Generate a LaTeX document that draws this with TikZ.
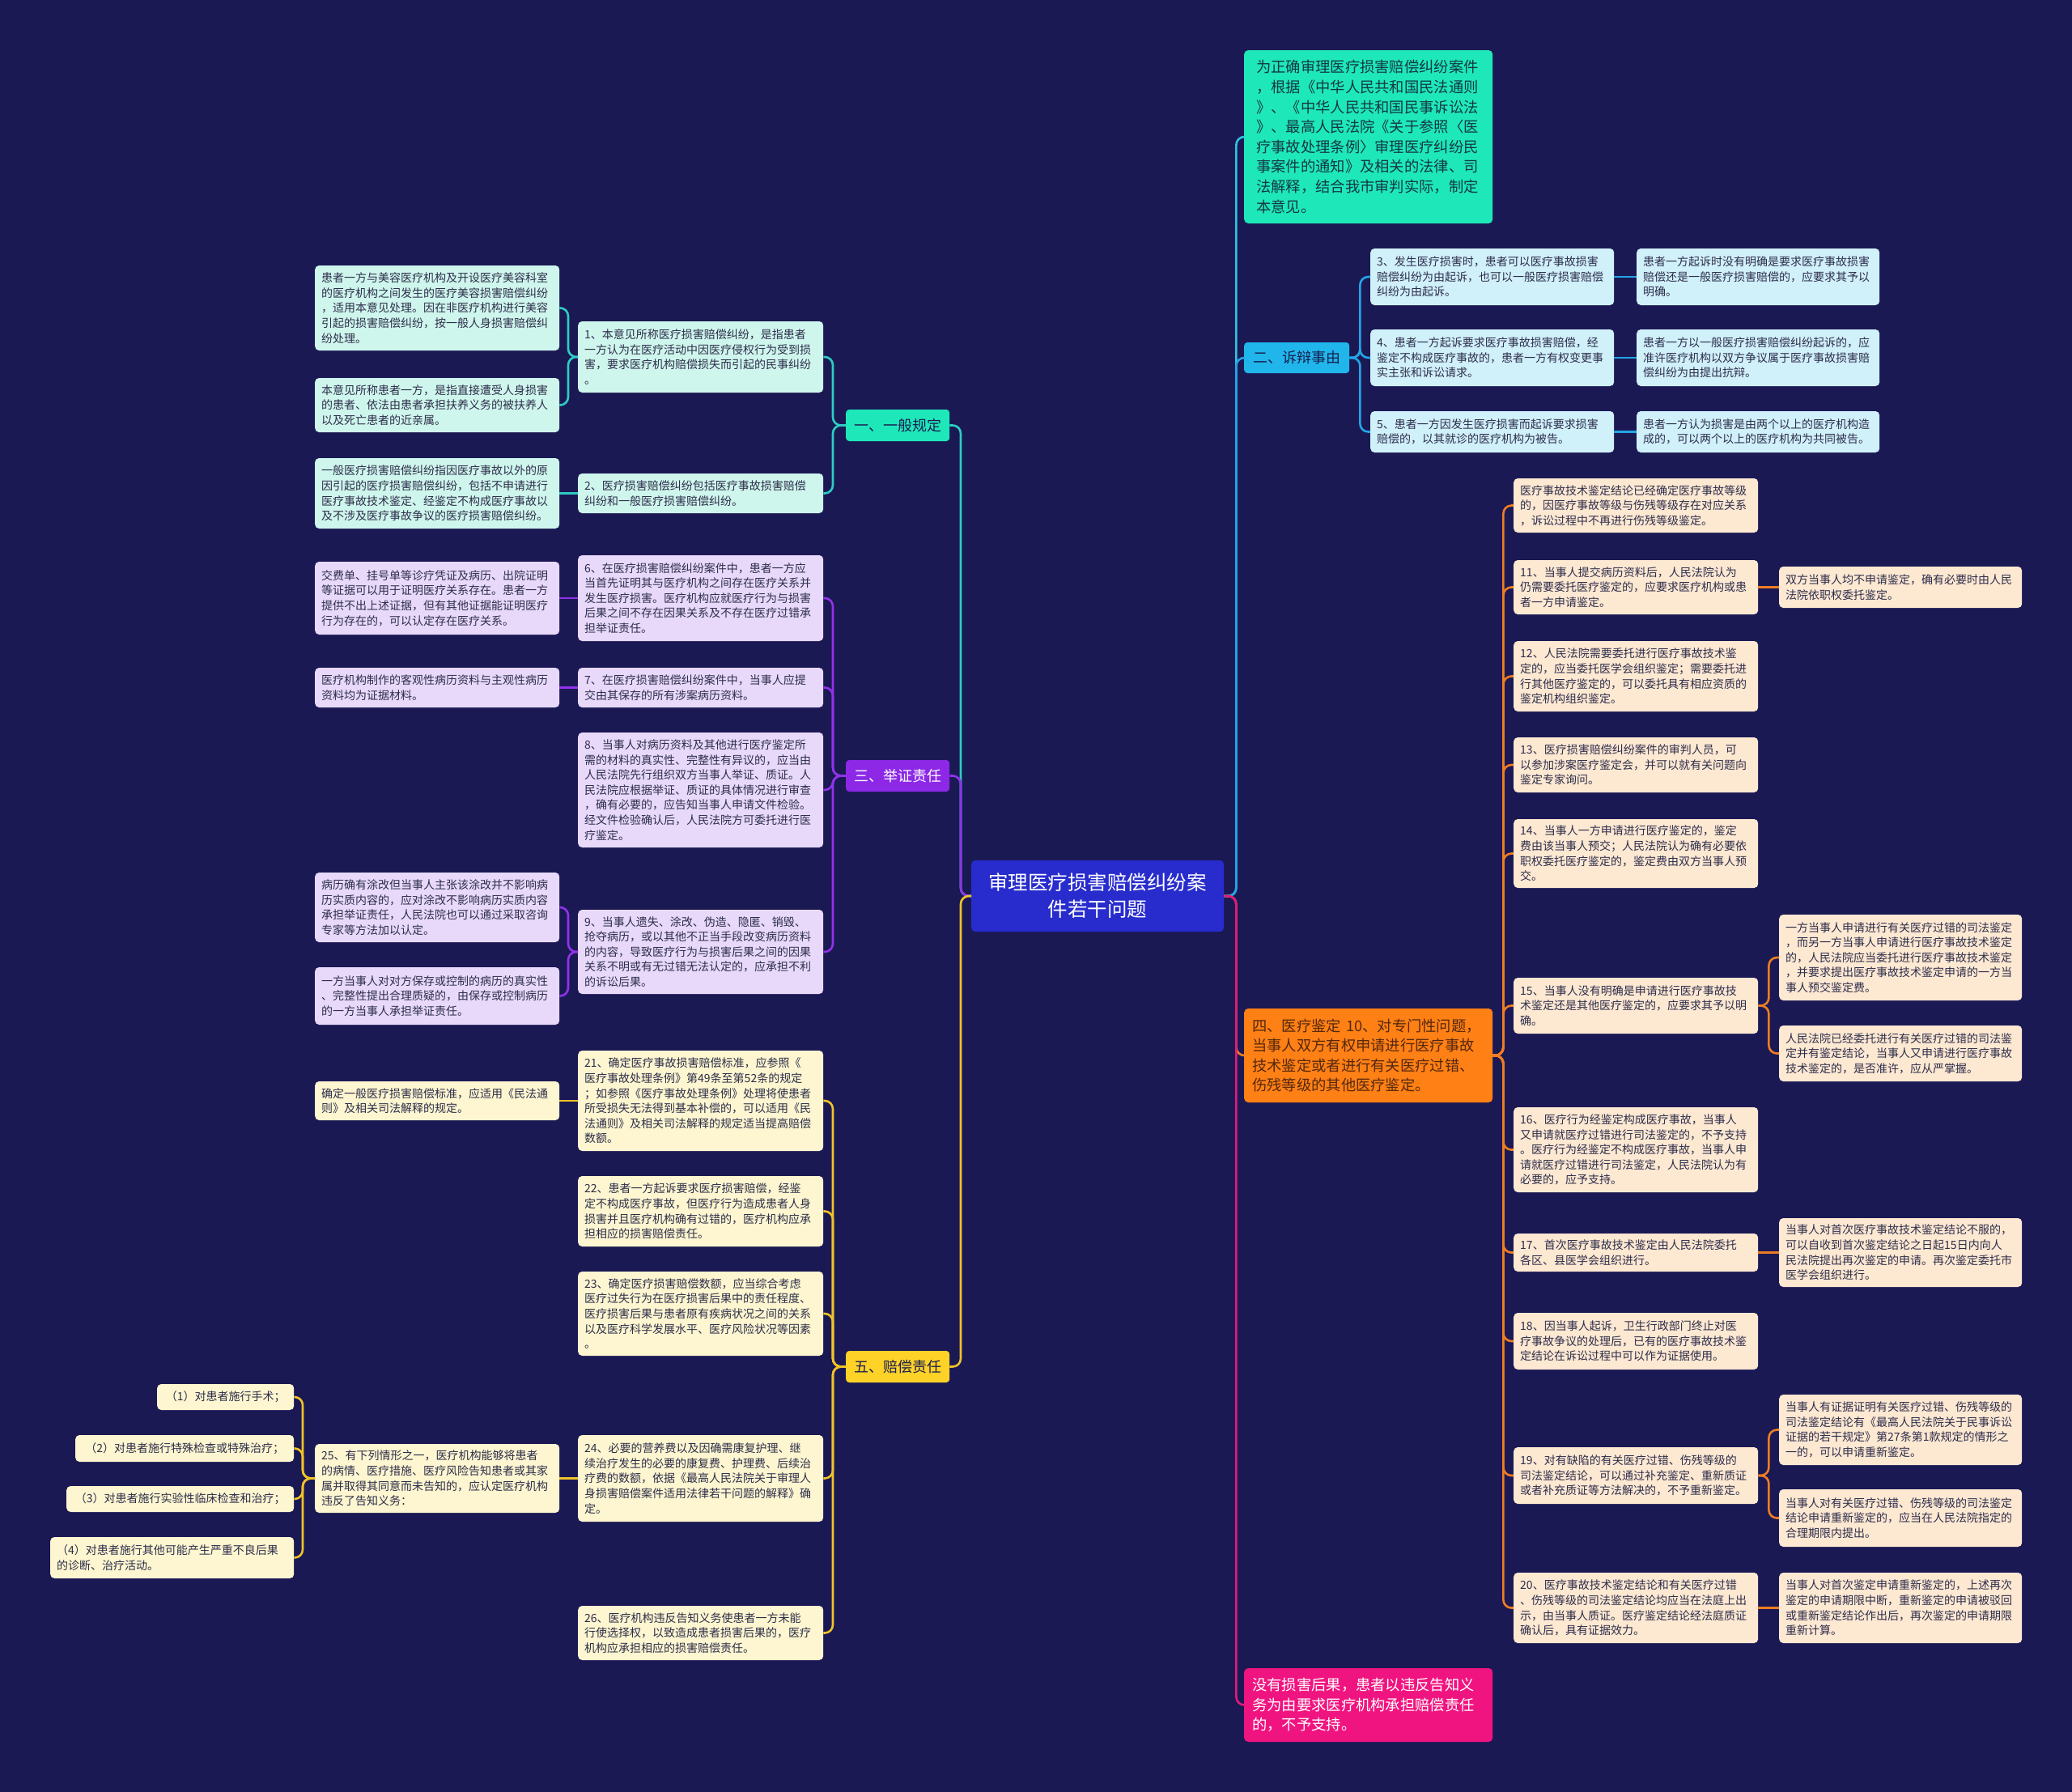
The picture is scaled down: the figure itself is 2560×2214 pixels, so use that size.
\documentclass[tikz,border=0pt]{standalone}
\usepackage{fontspec}
\setmainfont{Noto Sans CJK SC}
\definecolor{bg}{RGB}{27,25,84}
\definecolor{cfill}{RGB}{40,44,205}
\definecolor{cTeal}{RGB}{30,232,185}
\definecolor{cBlue}{RGB}{32,182,235}
\definecolor{cPurple}{RGB}{140,40,230}
\definecolor{cOrange}{RGB}{255,128,20}
\definecolor{cYellow}{RGB}{255,210,40}
\definecolor{cPink}{RGB}{240,20,128}
\definecolor{f1}{RGB}{207,246,236}
\definecolor{f2}{RGB}{208,240,250}
\definecolor{f3}{RGB}{232,217,250}
\definecolor{f4}{RGB}{253,232,210}
\definecolor{f5}{RGB}{253,246,208}
\definecolor{l1}{RGB}{45,205,195}
\definecolor{lBlue}{RGB}{35,165,230}
\definecolor{l3}{RGB}{145,50,235}
\definecolor{lOrange}{RGB}{238,125,35}
\definecolor{l5}{RGB}{240,195,40}
\definecolor{lPink}{RGB}{225,25,125}
\definecolor{lTeal}{RGB}{45,195,225}
\definecolor{ltext}{RGB}{45,45,75}
\definecolor{itext}{RGB}{20,55,70}
\definecolor{stext}{RGB}{25,30,80}
\definecolor{otext}{RGB}{85,40,15}
\newcommand\ndp[8]{%
  \pgfmathsetmacro\ndw{#4-#3}%
  \pgfmathsetmacro\ndh{#6-#5}%
  \pgfmathsetmacro\ndy{(#5+#6)/2}%
  \pgfmathsetmacro\ndtw{#4-#3-2*#7}%
  \node[#2, inner xsep=#7pt, anchor=west, minimum width=\ndw pt, minimum height=\ndh pt, text width=\ndtw pt] (#1) at (#3,\ndy) {#8};}
\newcommand\nd[7]{\ndp{#1}{#2}{#3}{#4}{#5}{#6}{8}{#7}}
\tikzset{
  lf/.style={rounded corners=5pt, inner ysep=0pt, align=left, font=\fontsize{14}{18.6}\selectfont, text=ltext},
  lf1/.style={lf, fill=f1}, lf2/.style={lf, fill=f2}, lf3/.style={lf, fill=f3},
  lf4/.style={lf, fill=f4}, lf5/.style={lf, fill=f5},
  sec/.style={rounded corners=4pt, inner ysep=0pt, align=center, font=\fontsize{18}{24}\selectfont},
  big/.style={rounded corners=5pt, inner ysep=0pt, align=left, font=\fontsize{18.3}{24.6}\selectfont},
  cn/.style={line width=2.6pt, rounded corners=10pt},
}
\begin{document}
\begin{tikzpicture}[x=1pt,y=-1pt]
\useasboundingbox (0,0) rectangle (2560,2214);
\fill[bg] (0,0) rectangle (2560,2214);

% ---------- main nodes ----------
\ndp{C}{big, fill=cfill, text=white, align=center, font=\fontsize{24.5}{33}\selectfont}{1200}{1512}{1063}{1151}{15}{审理医疗损害赔偿纠纷案\\件若干问题}
\ndp{I}{big, fill=cTeal, text=itext}{1537}{1844}{62}{276}{15}{为正确审理医疗损害赔偿纠纷案件\\，根据《中华人民共和国民法通则\\》、《中华人民共和国民事诉讼法\\》、最高人民法院《关于参照〈医\\疗事故处理条例〉审理医疗纠纷民\\事案件的通知》及相关的法律、司\\法解释，结合我市审判实际，制定\\本意见。}
\ndp{S2}{sec, fill=cBlue, text=stext}{1537}{1667}{423}{461}{4}{二、诉辩事由}
\ndp{S4}{big, fill=cOrange, text=otext}{1537}{1844}{1246}{1362}{10}{四、医疗鉴定 10、对专门性问题，\\当事人双方有权申请进行医疗事故\\技术鉴定或者进行有关医疗过错、\\伤残等级的其他医疗鉴定。}
\ndp{P}{big, fill=cPink, text=white}{1537}{1844}{2061}{2152}{10}{没有损害后果，患者以违反告知义\\务为由要求医疗机构承担赔偿责任\\的，不予支持。}
\ndp{S1}{sec, fill=cTeal, text=stext}{1045}{1173}{506}{545}{4}{一、一般规定}
\ndp{S3}{sec, fill=cPurple, text=white}{1045}{1173}{939}{978}{4}{三、举证责任}
\ndp{S5}{sec, fill=cYellow, text=stext}{1045}{1173}{1669}{1708}{4}{五、赔偿责任}

% ---------- section 2 ----------
\nd{n3}{lf2}{1693}{1994}{307}{377}{3、发生医疗损害时，患者可以医疗事故损害\\赔偿纠纷为由起诉，也可以一般医疗损害赔偿\\纠纷为由起诉。}
\nd{n3r}{lf2}{2022}{2322}{307}{377}{患者一方起诉时没有明确是要求医疗事故损害\\赔偿还是一般医疗损害赔偿的，应要求其予以\\明确。}
\nd{n4}{lf2}{1693}{1994}{407}{477}{4、患者一方起诉要求医疗事故损害赔偿，经\\鉴定不构成医疗事故的，患者一方有权变更事\\实主张和诉讼请求。}
\nd{n4r}{lf2}{2022}{2322}{407}{477}{患者一方以一般医疗损害赔偿纠纷起诉的，应\\准许医疗机构以双方争议属于医疗事故损害赔\\偿纠纷为由提出抗辩。}
\nd{n5}{lf2}{1693}{1994}{508}{559}{5、患者一方因发生医疗损害而起诉要求损害\\赔偿的，以其就诊的医疗机构为被告。}
\nd{n5r}{lf2}{2022}{2322}{508}{559}{患者一方认为损害是由两个以上的医疗机构造\\成的，可以两个以上的医疗机构为共同被告。}

% ---------- section 4 ----------
\nd{nA}{lf4}{1870}{2172}{591}{658}{医疗事故技术鉴定结论已经确定医疗事故等级\\的，因医疗事故等级与伤残等级存在对应关系\\，诉讼过程中不再进行伤残等级鉴定。}
\nd{n11}{lf4}{1870}{2172}{692}{759}{11、当事人提交病历资料后，人民法院认为\\仍需要委托医疗鉴定的，应要求医疗机构或患\\者一方申请鉴定。}
\nd{n11r}{lf4}{2198}{2498}{700}{751}{双方当事人均不申请鉴定，确有必要时由人民\\法院依职权委托鉴定。}
\nd{n12}{lf4}{1870}{2172}{792}{879}{12、人民法院需要委托进行医疗事故技术鉴\\定的，应当委托医学会组织鉴定；需要委托进\\行其他医疗鉴定的，可以委托具有相应资质的\\鉴定机构组织鉴定。}
\nd{n13}{lf4}{1870}{2172}{911}{979}{13、医疗损害赔偿纠纷案件的审判人员，可\\以参加涉案医疗鉴定会，并可以就有关问题向\\鉴定专家询问。}
\nd{n14}{lf4}{1870}{2172}{1012}{1097}{14、当事人一方申请进行医疗鉴定的，鉴定\\费由该当事人预交；人民法院认为确有必要依\\职权委托医疗鉴定的，鉴定费由双方当事人预\\交。}
\nd{n15}{lf4}{1870}{2172}{1208}{1277}{15、当事人没有明确是申请进行医疗事故技\\术鉴定还是其他医疗鉴定的，应要求其予以明\\确。}
\nd{n15a}{lf4}{2198}{2498}{1130}{1236}{一方当事人申请进行有关医疗过错的司法鉴定\\，而另一方当事人申请进行医疗事故技术鉴定\\的，人民法院应当委托进行医疗事故技术鉴定\\，并要求提出医疗事故技术鉴定申请的一方当\\事人预交鉴定费。}
\nd{n15b}{lf4}{2198}{2498}{1267}{1336}{人民法院已经委托进行有关医疗过错的司法鉴\\定并有鉴定结论，当事人又申请进行医疗事故\\技术鉴定的，是否准许，应从严掌握。}
\nd{n16}{lf4}{1870}{2172}{1368}{1473}{16、医疗行为经鉴定构成医疗事故，当事人\\又申请就医疗过错进行司法鉴定的，不予支持\\。医疗行为经鉴定不构成医疗事故，当事人申\\请就医疗过错进行司法鉴定，人民法院认为有\\必要的，应予支持。}
\nd{n17}{lf4}{1870}{2172}{1524}{1571}{17、首次医疗事故技术鉴定由人民法院委托\\各区、县医学会组织进行。}
\nd{n17r}{lf4}{2198}{2498}{1505}{1590}{当事人对首次医疗事故技术鉴定结论不服的，\\可以自收到首次鉴定结论之日起15日内向人\\民法院提出再次鉴定的申请。再次鉴定委托市\\医学会组织进行。}
\nd{n18}{lf4}{1870}{2172}{1622}{1692}{18、因当事人起诉，卫生行政部门终止对医\\疗事故争议的处理后，已有的医疗事故技术鉴\\定结论在诉讼过程中可以作为证据使用。}
\nd{n19}{lf4}{1870}{2172}{1788}{1858}{19、对有缺陷的有关医疗过错、伤残等级的\\司法鉴定结论，可以通过补充鉴定、重新质证\\或者补充质证等方法解决的，不予重新鉴定。}
\nd{n19a}{lf4}{2198}{2498}{1723}{1810}{当事人有证据证明有关医疗过错、伤残等级的\\司法鉴定结论有《最高人民法院关于民事诉讼\\证据的若干规定》第27条第1款规定的情形之\\一的，可以申请重新鉴定。}
\nd{n19b}{lf4}{2198}{2498}{1840}{1911}{当事人对有关医疗过错、伤残等级的司法鉴定\\结论申请重新鉴定的，应当在人民法院指定的\\合理期限内提出。}
\nd{n20}{lf4}{1870}{2172}{1943}{2030}{20、医疗事故技术鉴定结论和有关医疗过错\\、伤残等级的司法鉴定结论均应当在法庭上出\\示，由当事人质证。医疗鉴定结论经法庭质证\\确认后，具有证据效力。}
\nd{n20r}{lf4}{2198}{2498}{1943}{2030}{当事人对首次鉴定申请重新鉴定的，上述再次\\鉴定的申请期限中断，重新鉴定的申请被驳回\\或重新鉴定结论作出后，再次鉴定的申请期限\\重新计算。}

% ---------- section 1 ----------
\nd{n1}{lf1}{714}{1017}{397}{485}{1、本意见所称医疗损害赔偿纠纷，是指患者\\一方认为在医疗活动中因医疗侵权行为受到损\\害，要求医疗机构赔偿损失而引起的民事纠纷\\。}
\nd{l1a}{lf1}{389}{691}{328}{433}{患者一方与美容医疗机构及开设医疗美容科室\\的医疗机构之间发生的医疗美容损害赔偿纠纷\\，适用本意见处理。因在非医疗机构进行美容\\引起的损害赔偿纠纷，按一般人身损害赔偿纠\\纷处理。}
\nd{l1b}{lf1}{389}{691}{467}{534}{本意见所称患者一方，是指直接遭受人身损害\\的患者、依法由患者承担扶养义务的被扶养人\\以及死亡患者的近亲属。}
\nd{n2}{lf1}{714}{1017}{585}{634}{2、医疗损害赔偿纠纷包括医疗事故损害赔偿\\纠纷和一般医疗损害赔偿纠纷。}
\nd{l2a}{lf1}{389}{691}{566}{653}{一般医疗损害赔偿纠纷指因医疗事故以外的原\\因引起的医疗损害赔偿纠纷，包括不申请进行\\医疗事故技术鉴定、经鉴定不构成医疗事故以\\及不涉及医疗事故争议的医疗损害赔偿纠纷。}

% ---------- section 3 ----------
\nd{n6}{lf3}{714}{1017}{686}{792}{6、在医疗损害赔偿纠纷案件中，患者一方应\\当首先证明其与医疗机构之间存在医疗关系并\\发生医疗损害。医疗机构应就医疗行为与损害\\后果之间不存在因果关系及不存在医疗过错承\\担举证责任。}
\nd{l6a}{lf3}{389}{691}{694}{784}{交费单、挂号单等诊疗凭证及病历、出院证明\\等证据可以用于证明医疗关系存在。患者一方\\提供不出上述证据，但有其他证据能证明医疗\\行为存在的，可以认定存在医疗关系。}
\nd{n7}{lf3}{714}{1017}{825}{874}{7、在医疗损害赔偿纠纷案件中，当事人应提\\交由其保存的所有涉案病历资料。}
\nd{l7a}{lf3}{389}{691}{825}{874}{医疗机构制作的客观性病历资料与主观性病历\\资料均为证据材料。}
\nd{n8}{lf3}{714}{1017}{905}{1047}{8、当事人对病历资料及其他进行医疗鉴定所\\需的材料的真实性、完整性有异议的，应当由\\人民法院先行组织双方当事人举证、质证。人\\民法院应根据举证、质证的具体情况进行审查\\，确有必要的，应告知当事人申请文件检验。\\经文件检验确认后，人民法院方可委托进行医\\疗鉴定。}
\nd{n9}{lf3}{714}{1017}{1124}{1228}{9、当事人遗失、涂改、伪造、隐匿、销毁、\\抢夺病历，或以其他不正当手段改变病历资料\\的内容，导致医疗行为与损害后果之间的因果\\关系不明或有无过错无法认定的，应承担不利\\的诉讼后果。}
\nd{l9a}{lf3}{389}{691}{1078}{1164}{病历确有涂改但当事人主张该涂改并不影响病\\历实质内容的，应对涂改不影响病历实质内容\\承担举证责任，人民法院也可以通过采取咨询\\专家等方法加以认定。}
\nd{l9b}{lf3}{389}{691}{1195}{1266}{一方当事人对对方保存或控制的病历的真实性\\、完整性提出合理质疑的，由保存或控制病历\\的一方当事人承担举证责任。}

% ---------- section 5 ----------
\nd{n21}{lf5}{714}{1017}{1298}{1422}{21、确定医疗事故损害赔偿标准，应参照《\\医疗事故处理条例》第49条至第52条的规定\\；如参照《医疗事故处理条例》处理将使患者\\所受损失无法得到基本补偿的，可以适用《民\\法通则》及相关司法解释的规定适当提高赔偿\\数额。}
\nd{l21a}{lf5}{389}{691}{1336}{1384}{确定一般医疗损害赔偿标准，应适用《民法通\\则》及相关司法解释的规定。}
\nd{n22}{lf5}{714}{1017}{1453}{1540}{22、患者一方起诉要求医疗损害赔偿，经鉴\\定不构成医疗事故，但医疗行为造成患者人身\\损害并且医疗机构确有过错的，医疗机构应承\\担相应的损害赔偿责任。}
\nd{n23}{lf5}{714}{1017}{1571}{1675}{23、确定医疗损害赔偿数额，应当综合考虑\\医疗过失行为在医疗损害后果中的责任程度、\\医疗损害后果与患者原有疾病状况之间的关系\\以及医疗科学发展水平、医疗风险状况等因素\\。}
\nd{n24}{lf5}{714}{1017}{1773}{1880}{24、必要的营养费以及因确需康复护理、继\\续治疗发生的必要的康复费、护理费、后续治\\疗费的数额，依据《最高人民法院关于审理人\\身损害赔偿案件适用法律若干问题的解释》确\\定。}
\nd{n25}{lf5}{389}{691}{1784}{1869}{25、有下列情形之一，医疗机构能够将患者\\的病情、医疗措施、医疗风险告知患者或其家\\属并取得其同意而未告知的，应认定医疗机构\\违反了告知义务：}
\ndp{p1}{lf5, align=center}{194}{363}{1710}{1742}{6}{（1）对患者施行手术；}
\ndp{p2}{lf5, align=center}{93}{363}{1773}{1806}{6}{（2）对患者施行特殊检查或特殊治疗；}
\ndp{p3}{lf5, align=center}{82}{363}{1836}{1868}{6}{（3）对患者施行实验性临床检查和治疗；}
\ndp{p4}{lf5}{62}{363}{1899}{1950}{8}{（4）对患者施行其他可能产生严重不良后果\\的诊断、治疗活动。}
\nd{n26}{lf5}{714}{1017}{1984}{2051}{26、医疗机构违反告知义务使患者一方未能\\行使选择权，以致造成患者损害后果的，医疗\\机构应承担相应的损害赔偿责任。}

% ---------- connectors (right) ----------
\draw[cn, lTeal] (C.east) -- ++(15,0) |- (I.west);
\draw[cn, lBlue] (C.east) -- ++(15,0) |- (S2.west);
\draw[cn, lOrange] (C.east) -- ++(15,0) |- (S4.west);
\draw[cn, lPink] (C.east) -- ++(15,0) |- (P.west);
\foreach \c in {n3,n4,n5} \draw[cn, lBlue] (S2.east) -- ++(13,0) |- (\c.west);
\draw[cn, lBlue] (n3.east) -- (n3r.west);
\draw[cn, lBlue] (n4.east) -- (n4r.west);
\draw[cn, lBlue] (n5.east) -- (n5r.west);
\foreach \c in {nA,n11,n12,n13,n14,n15,n16,n17,n18,n19,n20} \draw[cn, lOrange] (S4.east) -- ++(13,0) |- (\c.west);
\draw[cn, lOrange] (n11.east) -- (n11r.west);
\draw[cn, lOrange] (n17.east) -- (n17r.west);
\draw[cn, lOrange] (n20.east) -- (n20r.west);
\foreach \c in {n15a,n15b} \draw[cn, lOrange] (n15.east) -- ++(13,0) |- (\c.west);
\foreach \c in {n19a,n19b} \draw[cn, lOrange] (n19.east) -- ++(13,0) |- (\c.west);

% ---------- connectors (left) ----------
\draw[cn, l1] (C.west) -- ++(-13,0) |- (S1.east);
\draw[cn, l3] (C.west) -- ++(-13,0) |- (S3.east);
\draw[cn, l5] (C.west) -- ++(-13,0) |- (S5.east);
\foreach \c in {n1,n2} \draw[cn, l1] (S1.west) -- ++(-16,0) |- (\c.east);
\foreach \c in {l1a,l1b} \draw[cn, l1] (n1.west) -- ++(-12,0) |- (\c.east);
\draw[cn, l1] (n2.west) -- (l2a.east);
\foreach \c in {n6,n7,n8,n9} \draw[cn, l3] (S3.west) -- ++(-16,0) |- (\c.east);
\draw[cn, l3] (n6.west) -- (l6a.east);
\draw[cn, l3] (n7.west) -- (l7a.east);
\foreach \c in {l9a,l9b} \draw[cn, l3] (n9.west) -- ++(-12,0) |- (\c.east);
\foreach \c in {n21,n22,n23,n24,n26} \draw[cn, l5] (S5.west) -- ++(-16,0) |- (\c.east);
\draw[cn, l5] (n21.west) -- (l21a.east);
\draw[cn, l5] (n24.west) -- (n25.east);
\foreach \c in {p1,p2,p3,p4} \draw[cn, l5] (n25.west) -- ++(-15,0) |- (\c.east);
\end{tikzpicture}
\end{document}
